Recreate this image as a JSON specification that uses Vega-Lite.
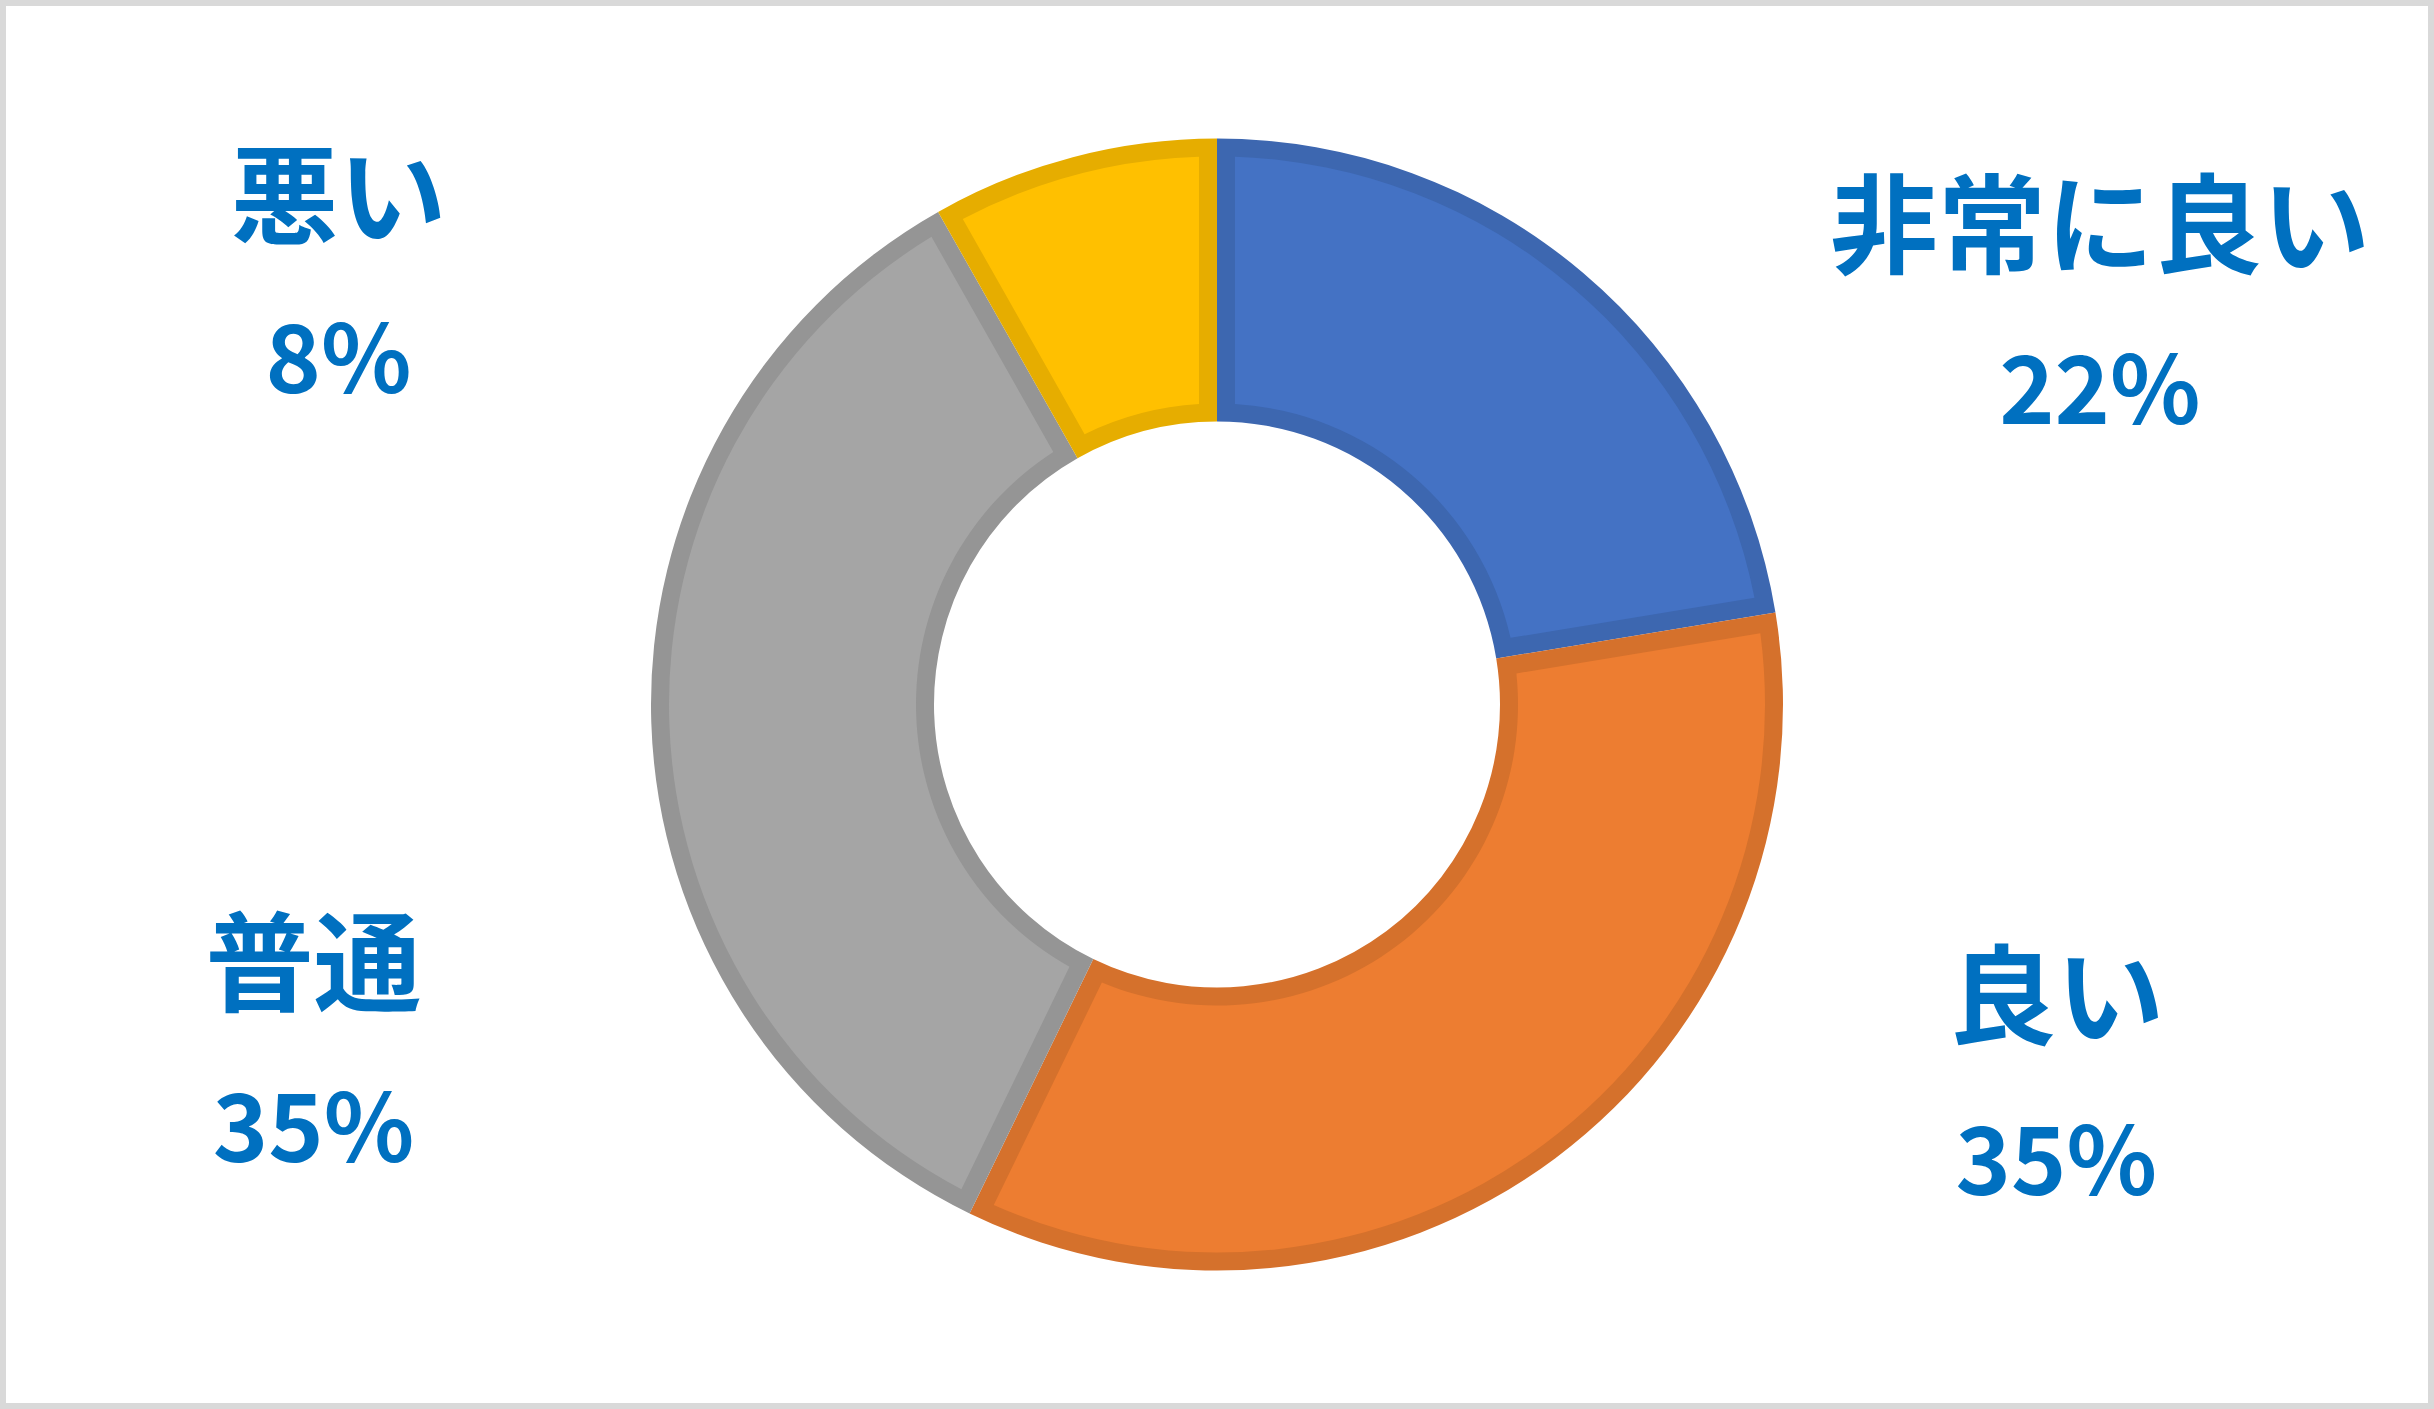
{
  "$schema": "https://vega.github.io/schema/vega-lite/v6.json",
  "description": "Donut chart of ratings with two-line labels.",
  "width": 2434,
  "height": 1409,
  "autosize": {"type": "fit", "contains": "padding"},
  "padding": 0,
  "background": "white",
  "data": {
    "values": [
      {"category": "非常に良い", "value": 0.224},
      {"category": "良い", "value": 0.348},
      {"category": "普通", "value": 0.346},
      {"category": "悪い", "value": 0.082}
    ]
  },
  "transform": [
    {"stack": "value", "groupby": [], "as": ["v0", "v1"]}
  ],
  "layer": [
    {
      "data": {"values": [{"frame": "chart area"}]},
      "mark": {"type": "rect", "filled": false, "stroke": "#D9D9D9", "strokeWidth": 6},
      "encoding": {}
    },
    {
      "mark": {"type": "arc", "outerRadius": 566, "innerRadius": 283},
      "encoding": {
        "theta": {"field": "v0", "type": "quantitative", "stack": null, "scale": {"domain": [0, 1]}},
        "theta2": {"field": "v1"},
        "fill": {
          "field": "category",
          "type": "nominal",
          "legend": null,
          "scale": {
            "domain": ["非常に良い", "良い", "普通", "悪い"],
            "range": ["#3D67B0", "#D5712C", "#959595", "#E6AD00"]
          }
        }
      }
    },
    {
      "mark": {"type": "arc", "outerRadius": 548, "innerRadius": 301, "padAngle": 0.0576},
      "encoding": {
        "theta": {"field": "v0", "type": "quantitative", "stack": null},
        "theta2": {"field": "v1"},
        "color": {
          "field": "category",
          "type": "nominal",
          "legend": null,
          "scale": {
            "domain": ["非常に良い", "良い", "普通", "悪い"],
            "range": ["#4472C4", "#ED7D31", "#A5A5A5", "#FFC000"]
          }
        }
      }
    },
    {
      "transform": [{"filter": {"field": "category", "equal": "非常に良い"}}],
      "encoding": {"theta": {"field": "v0", "type": "quantitative", "stack": null}},
      "layer": [
        {"mark": {"type": "text", "radius": 968, "thetaOffset": 1.1483, "dy": -75, "fontSize": 108}, "encoding": {"text": {"field": "category"}}},
        {"mark": {"type": "text", "radius": 968, "thetaOffset": 1.1483, "dy": 88}, "encoding": {"text": {"field": "value", "type": "quantitative", "format": ".0%"}}}
      ]
    },
    {
      "transform": [{"filter": {"field": "category", "equal": "良い"}}],
      "encoding": {"theta": {"field": "v0", "type": "quantitative", "stack": null}},
      "layer": [
        {"mark": {"type": "text", "radius": 919, "thetaOffset": 0.5829, "dy": -75, "fontSize": 108}, "encoding": {"text": {"field": "category"}}},
        {"mark": {"type": "text", "radius": 919, "thetaOffset": 0.5829, "dy": 88}, "encoding": {"text": {"field": "value", "type": "quantitative", "format": ".0%"}}}
      ]
    },
    {
      "transform": [{"filter": {"field": "category", "equal": "普通"}}],
      "encoding": {"theta": {"field": "v0", "type": "quantitative", "stack": null}},
      "layer": [
        {"mark": {"type": "text", "radius": 966, "thetaOffset": 0.7566, "dy": -75, "fontSize": 108}, "encoding": {"text": {"field": "category"}}},
        {"mark": {"type": "text", "radius": 966, "thetaOffset": 0.7566, "dy": 88}, "encoding": {"text": {"field": "value", "type": "quantitative", "format": ".0%"}}}
      ]
    },
    {
      "transform": [{"filter": {"field": "category", "equal": "悪い"}}],
      "encoding": {"theta": {"field": "v0", "type": "quantitative", "stack": null}},
      "layer": [
        {"mark": {"type": "text", "radius": 976, "thetaOffset": -0.6049, "dy": -75, "fontSize": 108}, "encoding": {"text": {"field": "category"}}},
        {"mark": {"type": "text", "radius": 976, "thetaOffset": -0.6049, "dy": 86}, "encoding": {"text": {"field": "value", "type": "quantitative", "format": ".0%"}}}
      ]
    }
  ],
  "config": {
    "view": {"stroke": null},
    "text": {
      "font": "Noto Sans CJK JP",
      "fontWeight": "bold",
      "fontSize": 94,
      "color": "#0070C0",
      "align": "center",
      "baseline": "middle"
    }
  }
}
